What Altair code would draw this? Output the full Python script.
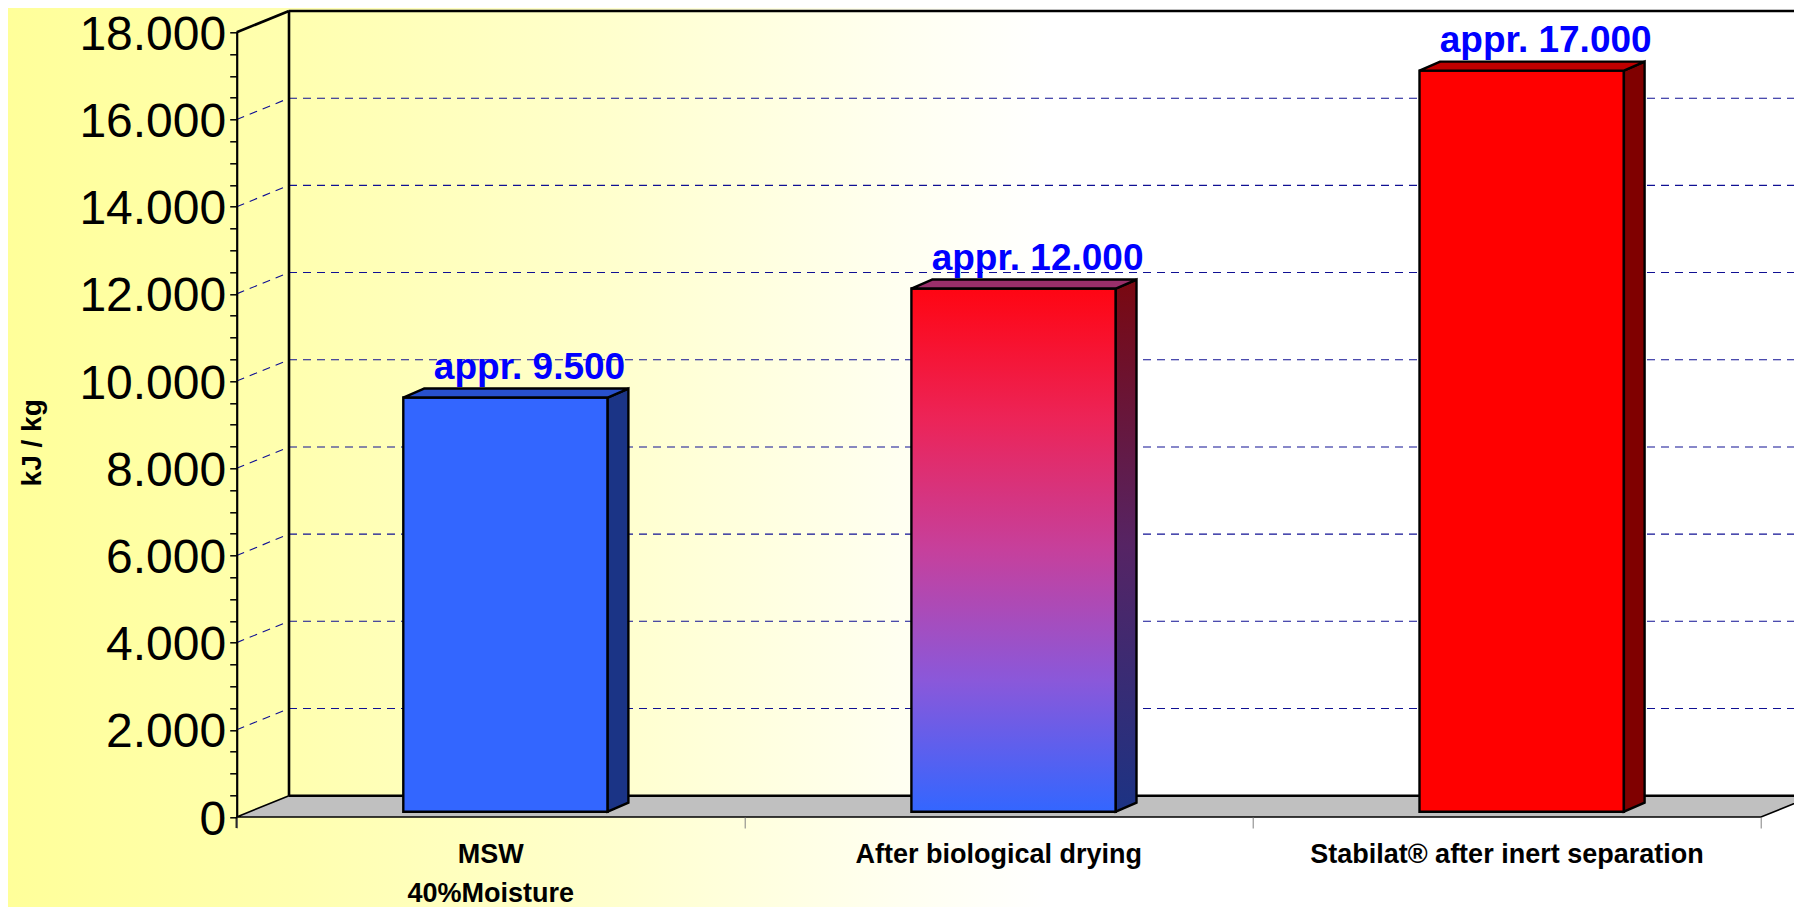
import altair as alt
import pandas as pd

# ---------------- data ----------------
categories = ["MSW\n40%Moisture", "After biological drying", "Stabilat® after inert separation"]
values = [9500, 12000, 17000]
value_labels = ["appr. 9.500", "appr. 12.000", "appr. 17.000"]
y_label_values = [0, 2000, 4000, 6000, 8000, 10000, 12000, 14000, 16000, 18000]
y_minor_step = 500
y_title = "kJ / kg"

# ---------------- layout / style constants ----------------
FONT = "Liberation Sans, Arial, sans-serif"
PAD_L, PAD_T = 228.7, 24.3
W, H = 1524.3, 784.7
PAD_R = 1786 - PAD_L - W
PAD_B = 899 - PAD_T - H
N = len(categories)
Y_MAX = y_label_values[-1]
BAND_PX = W / N
PX_PER_UNIT = H / Y_MAX


def px_x(p):
    return p / BAND_PX


def px_y(p):
    return p / PX_PER_UNIT


DEPTH_X, DEPTH_Y = px_x(52.3), px_y(21.3)      # 3-D depth of the box
BAR_L, BAR_W = px_x(166.6), px_x(204.4)        # bar position inside its band
BAR_DX, BAR_DY = px_x(20.7), px_y(9.0)         # bar depth
BAR_BASE = px_y(5.3)                           # bar front face sits a bit behind the front edge
GRID_COLOR = "#101094"

XS = alt.Scale(domain=[0, N], nice=False, zero=False)
YS = alt.Scale(domain=[0, Y_MAX], nice=False, zero=False)

XAX = alt.Axis(values=list(range(N + 1)), labels=False, domain=False, grid=False,
               tickSize=11, tickColor="#808080", tickWidth=1, title=None, zindex=2)
YAX = alt.Axis(values=list(range(0, Y_MAX + 1, y_minor_step)),
               labelExpr="datum.value % 2000 == 0 ? replace(format(datum.value, ',d'), ',', '.') : ''",
               labelOverlap=False, labelFlush=False, labelFont=FONT, labelFontSize=48,
               labelColor="black", labelPadding=4, labelOffset=3, labelBaseline="middle",
               tickSize=7, tickColor="black", tickWidth=1.5,
               domain=True, domainColor="black", domainWidth=2.2, grid=False,
               title=y_title, titleFont=FONT, titleFontSize=28, titleFontWeight="bold",
               titleColor="black", titleAngle=270, titleX=-204.7, titleY=410,
               titleAlign="center", titleBaseline="middle", zindex=2)


def ex(f):
    return alt.X(f, type="quantitative", scale=XS, axis=XAX)


def ey(f):
    return alt.Y(f, type="quantitative", scale=YS, axis=YAX)


def grad(stops, vertical=True):
    return alt.LinearGradient(
        gradient="linear",
        stops=[alt.GradientStop(color=c, offset=o) for o, c in stops],
        x1=0, x2=0 if vertical else 1, y1=0, y2=1 if vertical else 0)


layers = []

# ---------------- page background (yellow -> white) ----------------
bg = pd.DataFrame({"x": [-1.0], "x2": [N + 1.0], "y": [-3000.0], "y2": [Y_MAX + 2000.0]})
layers.append(alt.Chart(bg).mark_rect(
    fill=grad([(0.0, "#FFFF99"), (0.107, "#FFFF99"), (0.225, "#FFFFB0"),
               (0.343, "#FFFFCC"), (0.46, "#FFFFF0"), (0.52, "#FFFFFF"), (1.0, "#FFFFFF")],
              vertical=False)
).encode(x=ex("x"), x2=alt.X2("x2"), y=ey("y"), y2=alt.Y2("y2")))

# ---------------- grid lines on back wall + side wall ----------------
grid_vals = [v for v in y_label_values if 0 < v < Y_MAX]
back = pd.DataFrame({"x": [DEPTH_X] * len(grid_vals), "x2": [N + 0.5] * len(grid_vals),
                     "y": [v + DEPTH_Y for v in grid_vals]})
layers.append(alt.Chart(back).mark_rule(color=GRID_COLOR, strokeWidth=1.1, strokeDash=[8, 6])
              .encode(x=ex("x"), x2=alt.X2("x2"), y=ey("y")))
side = pd.DataFrame({"x": [0.0] * len(grid_vals), "x2": [DEPTH_X] * len(grid_vals),
                     "y": grid_vals, "y2": [v + DEPTH_Y for v in grid_vals]})
layers.append(alt.Chart(side).mark_rule(color=GRID_COLOR, strokeWidth=1.1, strokeDash=[8, 6])
              .encode(x=ex("x"), x2=alt.X2("x2"), y=ey("y"), y2=alt.Y2("y2")))

# ---------------- wall edges ----------------
edges = pd.DataFrame({
    "x": [DEPTH_X, DEPTH_X, 0.0],
    "x2": [N + 0.5, DEPTH_X, DEPTH_X],
    "y": [Y_MAX + DEPTH_Y, DEPTH_Y, Y_MAX],
    "y2": [Y_MAX + DEPTH_Y, Y_MAX + DEPTH_Y, Y_MAX + DEPTH_Y],
})
layers.append(alt.Chart(edges).mark_rule(color="black", strokeWidth=2.6)
              .encode(x=ex("x"), x2=alt.X2("x2"), y=ey("y"), y2=alt.Y2("y2")))

# ---------------- floor ----------------
floor = pd.DataFrame({"y": [0.0, DEPTH_Y], "x": [0.0, DEPTH_X], "x2": [float(N), N + DEPTH_X]})
layers.append(alt.Chart(floor).mark_area(orient="horizontal", fill="#C0C0C0", stroke="black",
                                         strokeWidth=1.6, strokeJoin="miter")
              .encode(y=ey("y"), x=ex("x"), x2=alt.X2("x2")))
back_edge = pd.DataFrame({"x": [DEPTH_X], "x2": [N + 0.5], "y": [DEPTH_Y]})
layers.append(alt.Chart(back_edge).mark_rule(color="black", strokeWidth=2.6)
              .encode(x=ex("x"), x2=alt.X2("x2"), y=ey("y")))
# front axis continues a little below zero
stub = pd.DataFrame({"x": [0.0], "y": [0.0], "y2": [-px_y(11)]})
layers.append(alt.Chart(stub).mark_rule(color="black", strokeWidth=2.2)
              .encode(x=ex("x"), y=ey("y"), y2=alt.Y2("y2")))

# ---------------- bars (pseudo 3-D) ----------------
bar_styles = [
    dict(front="#3366FF", side="#1B3486", top="#2850CC"),
    dict(front=grad([(0.0, "#FF0512"), (0.25, "#EC2458"), (0.5, "#C6409C"),
                     (0.75, "#8A58DA"), (1.0, "#3366FF")]),
         side=grad([(0.0, "#7A0810"), (0.5, "#562464"), (1.0, "#1C3384")]),
         top="#9A2F6A"),
    dict(front="#FF0000", side="#800000", top="#BF0000"),
]

for i, (v, st) in enumerate(zip(values, bar_styles)):
    xl = i + BAR_L
    xr = xl + BAR_W
    yb = BAR_BASE
    yt = v + BAR_BASE
    f = pd.DataFrame({"x": [xl], "x2": [xr], "y": [yb], "y2": [yt]})
    layers.append(alt.Chart(f).mark_rect(fill=st["front"], stroke="black", strokeWidth=2.4)
                  .encode(x=ex("x"), x2=alt.X2("x2"), y=ey("y"), y2=alt.Y2("y2")))
    s = pd.DataFrame({"x": [xr, xr + BAR_DX], "y": [yt, yt + BAR_DY], "y2": [yb, yb + BAR_DY]})
    layers.append(alt.Chart(s).mark_area(orient="vertical", fill=st["side"], stroke="black",
                                         strokeWidth=2.4, strokeJoin="miter")
                  .encode(x=ex("x"), y=ey("y"), y2=alt.Y2("y2")))
    t = pd.DataFrame({"y": [yt, yt + BAR_DY], "x": [xl, xl + BAR_DX], "x2": [xr, xr + BAR_DX]})
    layers.append(alt.Chart(t).mark_area(orient="horizontal", fill=st["top"], stroke="black",
                                         strokeWidth=2.4, strokeJoin="miter")
                  .encode(y=ey("y"), x=ex("x"), x2=alt.X2("x2")))

# ---------------- value labels ----------------
lab = pd.DataFrame({
    "x": [i + BAR_L + BAR_W / 2 + px_x(24) for i in range(N)],
    "y": [v + BAR_BASE + BAR_DY + px_y(10) for v in values],
    "t": value_labels,
})
layers.append(alt.Chart(lab).mark_text(font=FONT, fontSize=37, fontWeight="bold", color="#0000FF",
                                       align="center", baseline="alphabetic")
              .encode(x=ex("x"), y=ey("y"), text="t:N"))

# ---------------- category labels ----------------
cat = pd.DataFrame({"x": [i + 0.5 for i in range(N)], "y": [-px_y(46)] * N, "t": categories})
layers.append(alt.Chart(cat).mark_text(font=FONT, fontSize=27, fontWeight="bold", color="black",
                                       align="center", baseline="alphabetic",
                                       lineBreak="\n", lineHeight=39)
              .encode(x=ex("x"), y=ey("y"), text="t:N"))

chart = alt.layer(*layers).properties(
    width=W, height=H,
    padding={"left": PAD_L, "top": PAD_T, "right": PAD_R, "bottom": PAD_B},
    autosize=alt.AutoSizeParams(type="none"),
    background="#FFFFFF",
).configure_view(stroke=None)

chart.save("out.html", embed_options={"renderer": "svg", "actions": False})
